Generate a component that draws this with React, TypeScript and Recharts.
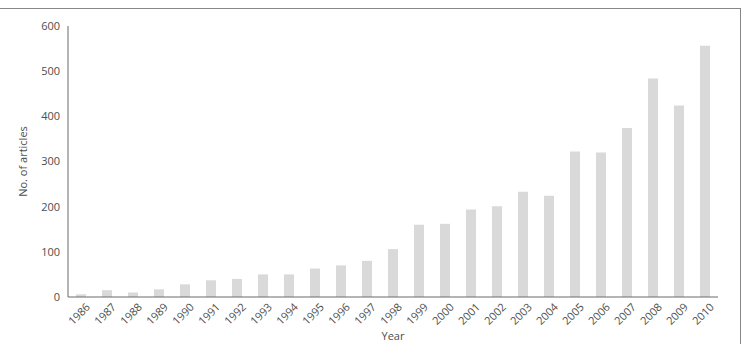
import React from 'react';
import { BarChart, Bar, XAxis, YAxis, Label } from 'recharts';

const years = ['1986','1987','1988','1989','1990','1991','1992','1993','1994','1995','1996','1997','1998','1999','2000','2001','2002','2003','2004','2005','2006','2007','2008','2009','2010'];
const articles = [6,15,10,17,28,37,40,50,50,63,70,80,106,160,162,194,201,233,224,322,320,374,484,424,556];
const yTicks = [0,100,200,300,400,500,600];

const data = years.map((y, i) => ({ year: y, count: articles[i] }));

const FONT = '"Open Sans", sans-serif';
const TXT = '#4d4d4d';

const XTick = (props: any) => {
  const { x, y, payload } = props;
  return (
    <text
      x={0}
      y={0}
      transform={`translate(${x + 3},${y - 4}) rotate(-45)`}
      textAnchor="end"
      dominantBaseline="hanging"
      fontSize={11}
      fontFamily={FONT}
      fill={TXT}
    >
      {payload.value}
    </text>
  );
};

export default function App() {
  return (
    <div style={{ position: 'absolute', left: 0, top: 0, width: 743, height: 344, background: '#fff' }}>
      <div style={{ position: 'absolute', left: 0, top: 8, width: 740, height: 336, borderTop: '1px solid #888', borderRight: '1px solid #888' }} />
      <BarChart
        width={743}
        height={344}
        data={data}
        margin={{ top: 26, right: 25, bottom: 7, left: 8 }}
        barCategoryGap={0}
      >
        <XAxis
          dataKey="year"
          axisLine={{ stroke: '#6a6a6a', strokeWidth: 1 }}
          tickLine={false}
          height={40}
          interval={0}
          tick={<XTick />}
        >
          <Label value="Year" position="insideBottom" offset={-3} style={{ fontSize: 11, fontFamily: FONT, fill: TXT }} />
        </XAxis>
        <YAxis
          width={60}
          domain={[0, 600]}
          ticks={yTicks}
          axisLine={{ stroke: '#6a6a6a', strokeWidth: 1 }}
          tickLine={false}
          tick={{ fontSize: 11, fontFamily: FONT, fill: TXT }}
          tickMargin={2}
        >
          <Label value="No. of articles" angle={-90} position="insideLeft" offset={15} style={{ fontSize: 11, fontFamily: FONT, fill: TXT, textAnchor: 'middle' }} />
        </YAxis>
        <Bar dataKey="count" fill="#d9d9d9" barSize={10} isAnimationActive={false} />
      </BarChart>
    </div>
  );
}
